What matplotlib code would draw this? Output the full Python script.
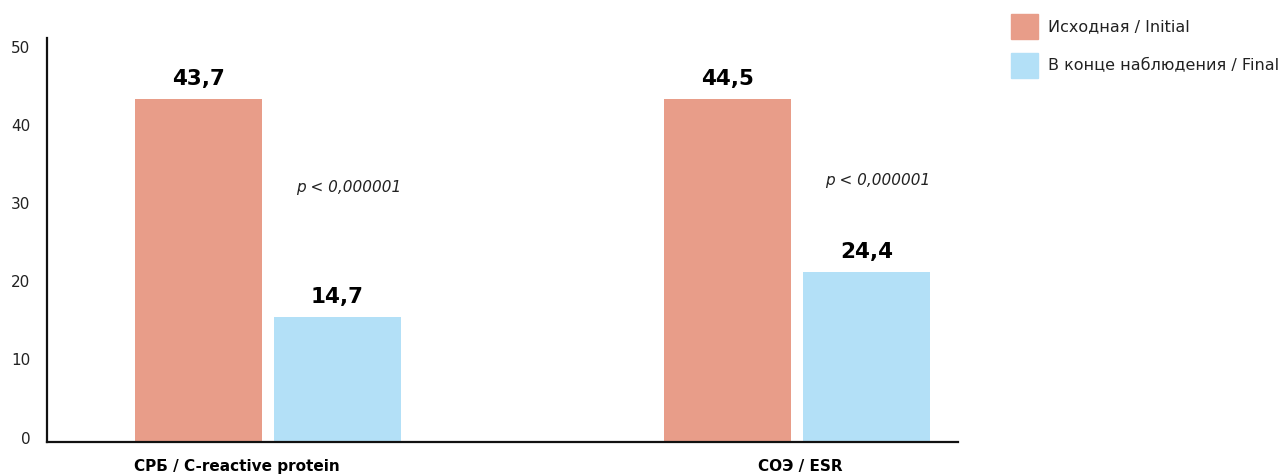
import numpy as np
import matplotlib.pyplot as plt
from matplotlib.patches import Patch
import matplotlib.transforms as mtransforms

categories = ['СРБ / C-reactive protein', 'СОЭ / ESR']
series_names = ['Исходная / Initial', 'В конце наблюдения / Final']
# bar heights as drawn in the picture
initial = [43.9, 43.9]
final = [16.0, 21.7]
# value labels as printed above the bars
initial_labels = ['43,7', '44,5']
final_labels = ['14,7', '24,4']
p_labels = ['p < 0,000001', 'p < 0,000001']
yticks = [0, 10, 20, 30, 40, 50]

c_init = '#E89D89'
c_final = '#B3E0F7'

fig = plt.figure(figsize=(12.79, 4.74), dpi=100)
ax = fig.add_axes([47 / 1279, 32.5 / 474, 911 / 1279, 403.5 / 474])

x = np.arange(len(categories))
w = 0.24
off = 0.131
b1 = ax.bar(x - off, initial, w, color=c_init)
b2 = ax.bar(x + off, final, w, color=c_final)

for bars, labels in ((b1, initial_labels), (b2, final_labels)):
    for rect, lab in zip(bars, labels):
        ax.annotate(lab, (rect.get_x() + rect.get_width() / 2, rect.get_height()),
                    xytext=(0, 7), textcoords='offset points',
                    ha='center', va='bottom', fontsize=15.5,
                    fontweight='heavy', color='black')

p_y = [32.6, 33.5]
for xi, lab, py in zip(x, p_labels, p_y):
    ax.text(xi + 0.153, py, lab, ha='center', va='center', fontsize=11,
            style='italic', color='#222222')

ax.set_xlim(-0.418, 1.304)
ax.set_ylim(0, 51.7)
ax.set_yticks(yticks)
ax.tick_params(axis='y', length=0, pad=12, labelsize=11, labelcolor='#222222')
shift = mtransforms.ScaledTranslation(0, 4 / 100, fig.dpi_scale_trans)
for lbl in ax.get_yticklabels():
    lbl.set_transform(lbl.get_transform() + shift)

ax.set_xticks([])
cat_x = [-0.06, 0.006]
for cx, cat in zip(x + np.array(cat_x), categories):
    ax.text(cx, -25 / 7.8, cat, ha='center', va='center', fontsize=11,
            fontweight='bold', family='Liberation Sans Narrow')

for s in ['top', 'right']:
    ax.spines[s].set_visible(False)
for s in ['left', 'bottom']:
    ax.spines[s].set_linewidth(1.6)
    ax.spines[s].set_color('#111111')

handles = [Patch(color=c_init), Patch(color=c_final)]
fig.legend(handles, series_names, loc='upper left',
           bbox_to_anchor=(1011 / 1279, 1 - 14 / 474), frameon=False,
           fontsize=11.5, handlelength=1.69, handleheight=2.04,
           handletextpad=0.6, labelspacing=0.85, borderpad=0, borderaxespad=0,
           labelcolor='#222222')

fig.savefig('out.png', dpi=100)
